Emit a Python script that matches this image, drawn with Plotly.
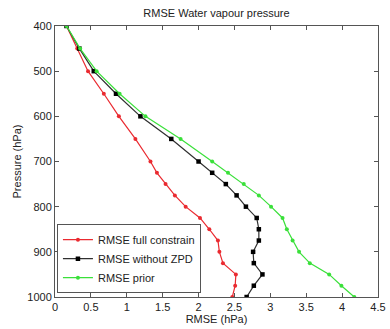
import plotly.graph_objects as go

pressure = [400, 450, 500, 550, 600, 650, 700, 725, 750, 775, 800, 825, 850, 875, 900, 925, 950, 975, 1000]
rmse_full = [0.16, 0.31, 0.46, 0.68, 0.89, 1.12, 1.33, 1.42, 1.54, 1.67, 1.82, 2.02, 2.15, 2.27, 2.29, 2.34, 2.52, 2.51, 2.47]
rmse_nozpd = [0.16, 0.34, 0.54, 0.85, 1.19, 1.62, 2.00, 2.19, 2.38, 2.53, 2.66, 2.81, 2.84, 2.84, 2.76, 2.77, 2.89, 2.77, 2.67]
rmse_prior = [0.16, 0.35, 0.58, 0.90, 1.26, 1.75, 2.19, 2.41, 2.63, 2.84, 3.01, 3.17, 3.23, 3.31, 3.40, 3.55, 3.82, 3.99, 4.17]

x_ticks = [0, 0.5, 1, 1.5, 2, 2.5, 3, 3.5, 4, 4.5]
x_tick_labels = ["0", "0.5", "1", "1.5", "2", "2.5", "3", "3.5", "4", "4.5"]
y_ticks = [400, 500, 600, 700, 800, 900, 1000]

FONT = "Liberation Sans, Arial, sans-serif"

fig = go.Figure()
fig.add_trace(go.Scatter(x=rmse_full, y=pressure, mode="lines+markers", name="RMSE full constrain",
                         line=dict(color="#ea2a30", width=1.2), marker=dict(size=4, color="#ea2a30")))
fig.add_trace(go.Scatter(x=rmse_nozpd, y=pressure, mode="lines+markers", name="RMSE without ZPD",
                         line=dict(color="#303030", width=1.2), marker=dict(size=4.5, symbol="square", color="#000000")))
fig.add_trace(go.Scatter(x=rmse_prior, y=pressure, mode="lines+markers", name="RMSE prior",
                         line=dict(color="#3ae03a", width=1.2), marker=dict(size=4, color="#3ae03a")))

axis_common = dict(showgrid=False, zeroline=False, showline=True, linecolor="#555555", linewidth=1,
                   mirror="ticks", ticks="inside", ticklen=4, tickcolor="#555555", automargin=False,
                   tickfont=dict(family=FONT, size=11, color="#222222"))

fig.update_layout(
    width=390, height=329,
    margin=dict(l=55, r=12, t=26, b=32),
    paper_bgcolor="white", plot_bgcolor="white",
    font=dict(family=FONT, size=11, color="#222222"),
    title=dict(text="RMSE Water vapour pressure", x=0.5, xref="paper", y=1 - 13 / 329, yref="container",
               yanchor="middle", xanchor="center", font=dict(family=FONT, size=11, color="#222222")),
    xaxis=dict(range=[0, 4.5], tickvals=x_ticks, ticktext=x_tick_labels,
               title=dict(text="RMSE (hPa)", font=dict(family=FONT, size=11), standoff=0), **axis_common),
    yaxis=dict(range=[1000, 400], tickvals=y_ticks,
               title=dict(text="Pressure (hPa)", font=dict(family=FONT, size=11), standoff=3), **axis_common),
    legend=dict(x=0.006, y=0.014, xanchor="left", yanchor="bottom", bgcolor="white",
                bordercolor="#555555", borderwidth=1, font=dict(family=FONT, size=11, color="#222222"),
                tracegroupgap=0, itemwidth=30),
    showlegend=True,
)

fig.write_html("out.html")
